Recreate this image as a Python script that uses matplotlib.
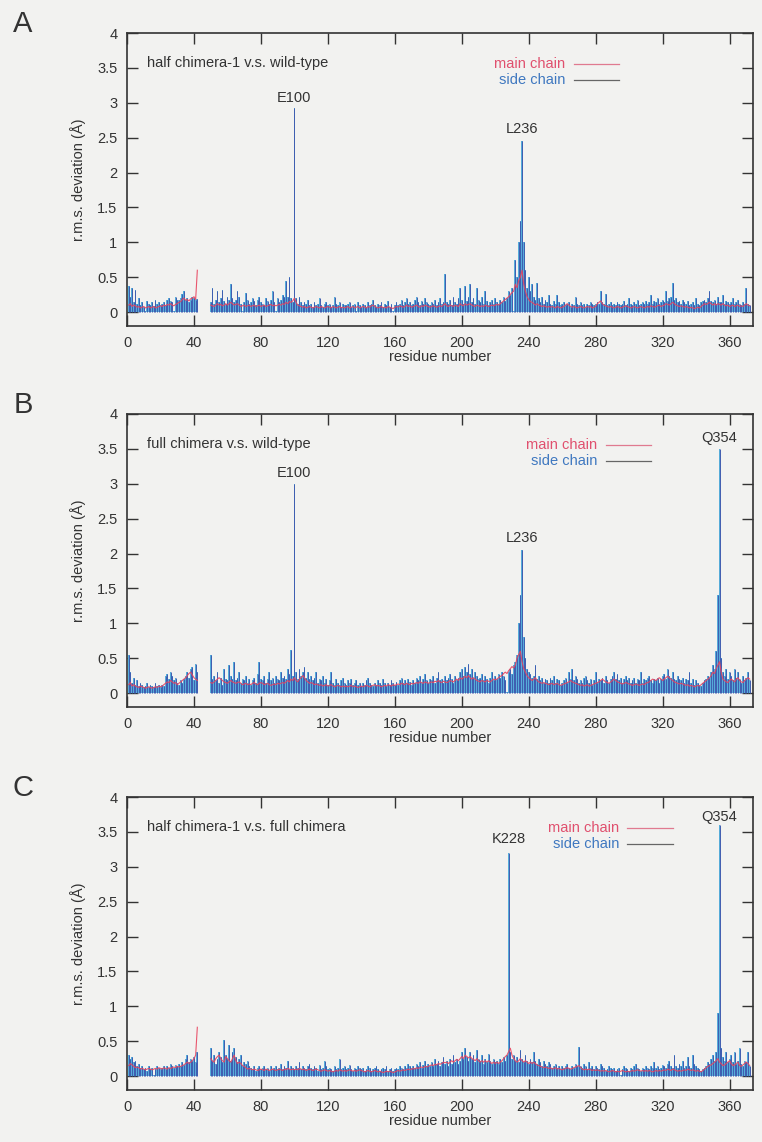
import numpy as np
import matplotlib
matplotlib.use("Agg")
import matplotlib.pyplot as plt

plt.rcParams['font.family'] = ['Liberation Sans', 'DejaVu Sans']

# r.m.s. deviation per residue (Angstrom), residues 1..372, 43-49 missing
sc_a = [.38,.22,.35,.15,.32,.12,.20,.10,.14,.08,
        .02,.16,.12,.10,.15,.09,.18,.11,.14,.10,
        .12,.15,.10,.18,.20,.16,.14,.02,.22,.18,
        .17,.20,.26,.30,.18,.20,.15,.18,.22,.20,
        .17,.19,None,None,None,None,None,None,None,.14,
        .35,.12,.18,.30,.15,.20,.32,.16,.12,.22,
        .18,.40,.20,.15,.18,.30,.22,.12,.02,.15,
        .28,.18,.12,.14,.20,.16,.10,.18,.22,.15,
        .12,.10,.20,.16,.12,.18,.30,.14,.02,.20,
        .15,.18,.25,.22,.45,.22,.50,.20,.15,2.92,
        .20,.12,.22,.15,.10,.14,.12,.18,.10,.12,
        .08,.14,.10,.12,.20,.10,.08,.12,.15,.10,
        .12,.08,.10,.22,.12,.10,.14,.08,.12,.10,
        .10,.12,.15,.08,.10,.12,.02,.14,.10,.08,
        .12,.10,.08,.14,.10,.12,.18,.10,.08,.12,
        .10,.14,.08,.12,.10,.16,.08,.12,.02,.10,
        .14,.10,.12,.18,.10,.14,.20,.12,.15,.10,
        .12,.18,.22,.14,.10,.16,.12,.20,.14,.12,
        .10,.15,.12,.18,.10,.14,.20,.12,.15,.55,
        .14,.12,.18,.10,.22,.15,.12,.20,.35,.18,
        .12,.38,.16,.22,.40,.15,.20,.12,.35,.18,
        .14,.22,.12,.30,.16,.10,.14,.18,.12,.20,
        .15,.12,.18,.14,.22,.16,.20,.30,.25,.35,
        .02,.75,.50,1.0,1.3,2.45,1.0,.60,.35,.50,
        .30,.40,.22,.18,.42,.20,.15,.22,.12,.18,
        .14,.25,.12,.10,.16,.12,.24,.14,.10,.12,
        .15,.10,.12,.14,.08,.12,.10,.22,.12,.10,
        .14,.10,.12,.08,.12,.10,.14,.12,.10,.12,
        .15,.12,.30,.14,.12,.26,.10,.12,.14,.10,
        .12,.10,.14,.12,.10,.12,.16,.10,.12,.20,
        .12,.10,.14,.12,.18,.10,.12,.14,.12,.16,
        .12,.14,.25,.12,.16,.14,.20,.12,.15,.18,
        .14,.30,.16,.20,.22,.42,.18,.20,.14,.16,
        .12,.18,.14,.12,.16,.10,.12,.14,.10,.20,
        .12,.10,.14,.16,.18,.14,.20,.30,.16,.14,
        .18,.12,.22,.15,.14,.25,.12,.16,.14,.12,
        .15,.20,.12,.14,.18,.12,.10,.15,.12,.35,
        .12,.10]

mc_a = [.10,.12,.08,.10,.09,.07,.08,.06,.07,.08,
        .06,.07,.08,.06,.07,.08,.06,.07,.08,.09,
        .08,.10,.09,.11,.10,.12,.10,.09,.11,.12,
        .14,.15,.18,.20,.17,.18,.16,.19,.20,.22,
        .18,.60,None,None,None,None,None,None,None,.10,
        .09,.08,.10,.12,.10,.11,.09,.10,.12,.10,
        .12,.14,.12,.10,.11,.12,.10,.08,.09,.10,
        .08,.09,.10,.08,.09,.10,.08,.09,.10,.08,
        .09,.10,.08,.09,.10,.11,.09,.10,.09,.10,
        .11,.10,.12,.11,.14,.12,.15,.14,.16,.20,
        .14,.10,.09,.08,.07,.08,.06,.07,.08,.07,
        .06,.07,.08,.07,.06,.08,.07,.06,.07,.08,
        .07,.06,.08,.07,.06,.07,.08,.06,.07,.06,
        .07,.08,.06,.07,.08,.06,.07,.08,.06,.07,
        .08,.07,.06,.08,.07,.09,.10,.08,.07,.06,
        .07,.08,.06,.07,.06,.08,.07,.06,.05,.07,
        .08,.07,.09,.08,.07,.08,.10,.08,.09,.07,
        .08,.09,.10,.08,.07,.09,.08,.10,.09,.08,
        .07,.08,.09,.08,.07,.08,.09,.08,.10,.12,
        .09,.08,.10,.09,.08,.10,.09,.08,.12,.10,
        .09,.12,.10,.11,.12,.10,.09,.08,.10,.09,
        .08,.09,.08,.10,.09,.08,.09,.10,.09,.10,
        .11,.10,.12,.14,.16,.18,.20,.22,.25,.28,
        .30,.40,.35,.45,.50,.60,.40,.30,.22,.18,
        .15,.14,.12,.10,.12,.10,.09,.08,.09,.08,
        .07,.08,.07,.08,.07,.06,.08,.07,.06,.07,
        .08,.10,.12,.10,.08,.07,.08,.07,.06,.07,
        .08,.07,.06,.07,.08,.07,.08,.06,.07,.08,
        .12,.14,.16,.12,.10,.09,.08,.07,.08,.07,
        .06,.07,.08,.07,.06,.07,.08,.09,.08,.07,
        .06,.07,.08,.07,.06,.07,.08,.07,.06,.07,
        .08,.07,.09,.08,.07,.08,.09,.10,.08,.09,
        .10,.12,.11,.10,.12,.14,.12,.10,.09,.08,
        .09,.08,.07,.08,.07,.06,.07,.06,.05,.06,
        .07,.06,.08,.10,.12,.11,.12,.14,.12,.10,
        .12,.10,.12,.11,.10,.12,.10,.09,.10,.08,
        .09,.10,.08,.09,.10,.08,.09,.08,.10,.12,
        .10,.09]

sc_b = [.55,.30,.15,.22,.12,.18,.10,.14,.12,.08,
        .10,.14,.08,.12,.10,.09,.14,.10,.12,.08,
        .12,.10,.25,.28,.20,.30,.25,.18,.22,.15,
        .12,.18,.14,.20,.25,.30,.22,.35,.38,.18,
        .42,.30,None,None,None,None,None,None,None,.55,
        .20,.25,.18,.30,.15,.22,.12,.35,.20,.18,
        .40,.25,.20,.45,.18,.22,.30,.15,.20,.18,
        .25,.15,.20,.12,.18,.22,.15,.28,.45,.20,
        .18,.25,.15,.20,.30,.18,.22,.15,.25,.20,
        .18,.30,.22,.25,.20,.35,.28,.62,.25,3.0,
        .30,.20,.35,.25,.30,.38,.22,.30,.20,.25,
        .18,.22,.30,.15,.20,.18,.25,.15,.20,.12,
        .18,.30,.15,.12,.20,.15,.12,.18,.22,.15,
        .12,.18,.15,.20,.12,.15,.18,.12,.15,.10,
        .15,.12,.18,.22,.15,.12,.10,.15,.12,.18,
        .15,.12,.20,.15,.10,.14,.12,.18,.15,.12,
        .16,.12,.18,.22,.15,.18,.14,.20,.16,.12,
        .18,.15,.22,.18,.25,.15,.20,.28,.18,.15,
        .20,.18,.25,.15,.22,.30,.18,.20,.15,.25,
        .18,.22,.28,.20,.15,.25,.18,.22,.30,.35,
        .25,.38,.30,.42,.28,.35,.22,.30,.25,.20,
        .22,.28,.18,.25,.20,.15,.22,.30,.18,.25,
        .20,.28,.22,.30,.25,.18,.02,.30,.35,.28,
        .40,.45,.55,1.0,1.4,2.05,.80,.50,.35,.30,
        .28,.22,.25,.40,.20,.25,.18,.22,.15,.20,
        .18,.15,.22,.18,.25,.15,.20,.18,.12,.15,
        .18,.22,.15,.30,.20,.35,.18,.25,.20,.15,
        .18,.15,.22,.25,.18,.15,.20,.12,.18,.30,
        .15,.20,.18,.22,.15,.25,.18,.15,.20,.25,
        .30,.20,.28,.18,.22,.15,.20,.25,.18,.22,
        .15,.18,.22,.15,.20,.18,.30,.15,.20,.18,
        .22,.25,.18,.15,.20,.18,.22,.15,.20,.25,
        .28,.20,.35,.25,.22,.30,.20,.18,.25,.20,
        .18,.22,.15,.20,.18,.30,.15,.20,.12,.18,
        .15,.12,.10,.15,.18,.20,.25,.22,.30,.40,
        .35,.60,1.4,3.5,.50,.30,.25,.35,.20,.30,
        .25,.18,.35,.22,.30,.20,.15,.25,.18,.22,
        .30,.18]

mc_b = [.12,.15,.10,.12,.10,.09,.08,.10,.09,.08,
        .07,.08,.09,.08,.07,.08,.09,.08,.10,.09,
        .10,.12,.14,.16,.15,.18,.16,.14,.15,.12,
        .14,.16,.18,.20,.22,.25,.28,.30,.26,.22,
        .20,.18,None,None,None,None,None,None,None,.15,
        .14,.16,.18,.20,.22,.20,.18,.16,.15,.14,
        .16,.18,.16,.15,.14,.15,.16,.14,.12,.13,
        .14,.12,.13,.12,.14,.15,.13,.12,.14,.15,
        .14,.12,.13,.14,.12,.11,.12,.13,.12,.14,
        .13,.14,.15,.14,.16,.18,.16,.20,.18,.22,
        .18,.16,.20,.22,.25,.22,.18,.16,.14,.15,
        .14,.12,.13,.12,.11,.12,.10,.11,.12,.10,
        .11,.12,.10,.09,.10,.11,.10,.09,.10,.09,
        .10,.09,.10,.11,.09,.10,.09,.08,.09,.10,
        .09,.10,.11,.10,.09,.10,.11,.12,.10,.11,
        .10,.09,.10,.11,.10,.12,.11,.10,.12,.11,
        .12,.13,.12,.14,.13,.12,.14,.13,.12,.14,
        .13,.14,.15,.14,.16,.15,.14,.16,.15,.14,
        .15,.16,.15,.17,.16,.18,.16,.15,.17,.16,
        .15,.16,.18,.17,.16,.18,.20,.18,.22,.20,
        .22,.24,.22,.25,.22,.20,.22,.20,.18,.17,
        .16,.18,.17,.16,.18,.17,.16,.18,.20,.19,
        .20,.22,.24,.25,.28,.30,.28,.32,.35,.38,
        .36,.40,.50,.55,.60,.45,.35,.30,.25,.22,
        .20,.18,.20,.22,.18,.16,.15,.14,.15,.14,
        .13,.12,.13,.14,.12,.13,.14,.12,.11,.12,
        .13,.14,.15,.16,.18,.16,.15,.14,.13,.12,
        .11,.12,.10,.11,.12,.10,.11,.12,.13,.14,
        .15,.16,.18,.20,.18,.16,.15,.14,.16,.18,
        .20,.18,.16,.15,.14,.13,.14,.15,.14,.13,
        .12,.11,.12,.13,.12,.11,.12,.13,.12,.14,
        .15,.16,.18,.20,.19,.18,.20,.22,.20,.18,
        .20,.22,.24,.22,.20,.18,.16,.15,.14,.13,
        .14,.13,.12,.11,.12,.10,.11,.10,.09,.10,
        .11,.10,.12,.14,.16,.18,.20,.22,.25,.30,
        .28,.35,.40,.45,.30,.20,.18,.16,.15,.18,
        .20,.18,.16,.20,.22,.18,.16,.15,.18,.20,
        .22,.20]

sc_c = [.30,.25,.28,.20,.22,.15,.18,.12,.15,.10,
        .12,.08,.14,.10,.12,.02,.10,.14,.12,.10,
        .12,.15,.10,.14,.12,.18,.15,.12,.16,.14,
        .18,.15,.20,.16,.25,.30,.20,.25,.22,.28,
        .20,.35,None,None,None,None,None,None,None,.40,
        .22,.30,.18,.25,.35,.28,.20,.52,.30,.25,
        .45,.22,.35,.40,.28,.20,.25,.30,.15,.20,
        .18,.22,.15,.12,.10,.14,.08,.12,.15,.10,
        .12,.14,.10,.12,.08,.15,.10,.12,.14,.10,
        .12,.18,.10,.14,.12,.22,.10,.14,.12,.10,
        .15,.12,.20,.10,.14,.12,.10,.15,.18,.12,
        .10,.14,.12,.08,.16,.10,.12,.22,.14,.10,
        .12,.10,.08,.14,.10,.12,.24,.10,.12,.14,
        .10,.12,.16,.10,.08,.12,.10,.14,.12,.10,
        .12,.08,.10,.14,.12,.08,.10,.12,.14,.10,
        .08,.10,.12,.10,.14,.08,.10,.12,.08,.10,
        .12,.10,.14,.12,.10,.15,.12,.18,.14,.12,
        .15,.12,.18,.14,.20,.12,.16,.22,.14,.18,
        .15,.20,.14,.25,.18,.22,.15,.20,.28,.18,
        .22,.15,.25,.18,.30,.20,.25,.18,.22,.35,
        .25,.40,.28,.22,.35,.25,.30,.20,.38,.25,
        .22,.30,.18,.25,.20,.32,.22,.18,.25,.20,
        .22,.18,.25,.20,.28,.22,.30,3.2,.35,.25,
        .30,.22,.28,.20,.38,.25,.20,.30,.22,.18,
        .25,.20,.35,.22,.18,.25,.20,.15,.22,.18,
        .15,.20,.18,.12,.15,.18,.12,.15,.10,.14,
        .12,.15,.18,.12,.10,.15,.12,.18,.14,.42,
        .15,.12,.18,.14,.10,.20,.12,.15,.10,.14,
        .12,.10,.18,.14,.12,.08,.10,.14,.12,.10,
        .12,.08,.10,.12,.02,.10,.14,.12,.10,.08,
        .12,.10,.14,.18,.12,.10,.08,.12,.10,.14,
        .12,.10,.15,.12,.20,.12,.14,.10,.12,.16,
        .14,.12,.18,.22,.14,.12,.30,.15,.12,.18,
        .14,.22,.12,.15,.28,.14,.12,.30,.18,.14,
        .12,.10,.08,.10,.12,.15,.20,.18,.25,.30,
        .22,.35,.90,3.6,.40,.28,.22,.35,.20,.25,
        .30,.20,.35,.18,.22,.40,.18,.15,.22,.20,
        .35,.15]

mc_c = [.15,.18,.16,.14,.12,.13,.12,.10,.11,.10,
        .09,.10,.11,.10,.09,.10,.11,.10,.12,.11,
        .10,.12,.11,.10,.12,.11,.12,.13,.12,.14,
        .13,.14,.15,.16,.18,.20,.18,.20,.22,.25,
        .30,.70,None,None,None,None,None,None,None,.25,
        .22,.20,.25,.28,.30,.25,.22,.20,.28,.25,
        .22,.20,.25,.30,.22,.18,.20,.18,.15,.14,
        .12,.10,.11,.10,.09,.10,.09,.08,.09,.10,
        .09,.08,.10,.09,.08,.09,.10,.09,.08,.09,
        .10,.09,.08,.10,.09,.11,.10,.09,.10,.09,
        .10,.09,.11,.10,.09,.10,.08,.09,.10,.09,
        .08,.09,.10,.09,.08,.07,.08,.09,.08,.07,
        .08,.07,.06,.07,.08,.07,.09,.08,.07,.08,
        .07,.08,.09,.08,.07,.08,.07,.08,.09,.08,
        .07,.06,.07,.08,.07,.06,.07,.08,.07,.06,
        .07,.06,.05,.06,.07,.06,.07,.06,.05,.06,
        .07,.08,.07,.08,.09,.08,.09,.10,.09,.10,
        .11,.10,.12,.11,.12,.13,.12,.14,.13,.14,
        .15,.16,.15,.17,.16,.18,.17,.18,.20,.19,
        .20,.18,.20,.22,.20,.22,.24,.22,.25,.28,
        .25,.30,.28,.26,.28,.25,.24,.22,.25,.22,
        .20,.22,.20,.22,.20,.22,.20,.18,.20,.18,
        .20,.18,.20,.22,.25,.28,.30,.35,.40,.30,
        .25,.22,.20,.22,.25,.22,.20,.22,.20,.18,
        .20,.18,.20,.18,.16,.15,.14,.13,.12,.13,
        .12,.11,.12,.10,.11,.12,.10,.11,.10,.09,
        .10,.11,.12,.11,.10,.11,.12,.13,.14,.15,
        .12,.10,.09,.10,.09,.10,.09,.08,.09,.08,
        .09,.08,.07,.08,.07,.08,.07,.06,.07,.08,
        .07,.06,.07,.06,.07,.08,.07,.06,.07,.06,
        .07,.08,.07,.08,.09,.08,.07,.08,.07,.08,
        .07,.08,.07,.06,.07,.08,.07,.08,.07,.08,
        .09,.08,.10,.09,.08,.10,.09,.08,.07,.08,
        .07,.08,.09,.08,.10,.09,.08,.09,.08,.07,
        .08,.07,.06,.08,.10,.12,.14,.15,.16,.18,
        .20,.22,.25,.20,.18,.15,.16,.18,.20,.22,
        .18,.15,.16,.18,.20,.15,.14,.16,.18,.20,
        .18,.15]

titles = ["half chimera-1 v.s. wild-type",
          "full chimera v.s. wild-type",
          "half chimera-1 v.s. full chimera"]
peaks_a = [("E100", 100, 3.07), ("L236", 236, 2.63)]
peaks_b = [("E100", 100, 3.16), ("L236", 236, 2.22), ("Q354", 354, 3.66)]
peaks_c = [("K228", 228, 3.4), ("Q354", 354, 3.72)]
letters = ["A", "B", "C"]

bg = '#f2f2f0'


def drawPanel(ax, mc, sc, title, peaks, legx):
    sc = np.array(sc, dtype=float)
    mc = np.array(mc, dtype=float)
    res = np.arange(1, len(sc) + 1)
    res_m = np.arange(1, len(mc) + 1)
    ok = ~np.isnan(sc)
    ax.bar(res[ok], sc[ok], width=1.0, color='#56acd9', linewidth=0, zorder=2)
    ax.vlines(res[ok], 0, sc[ok], colors='#3f5db0', linewidth=0.7, zorder=3)
    ax.plot(res_m, mc, color='#e8455f', linewidth=0.8, zorder=4, alpha=0.9)

    for name, x, y in peaks:
        ax.text(x, y, name, ha='center', va='center', fontsize=10.5, color='#333')

    ax.text(12, 3.57, title, ha='left', va='center', fontsize=10.5, color='#333')
    ax.text(legx, 3.56, "main chain", ha='right', va='center', fontsize=10.5, color='#e0506e')
    ax.text(legx, 3.32, "side chain", ha='right', va='center', fontsize=10.5, color='#3f78c0')
    ax.plot([legx + 5, legx + 32], [3.56, 3.56], color='#e07a90', linewidth=0.9)
    ax.plot([legx + 5, legx + 32], [3.32, 3.32], color='#666', linewidth=0.9)

    ax.set_xlim(0, 374)
    ax.set_ylim(-0.2, 4)
    ax.set_xticks(np.arange(0, 361, 40))
    ax.set_yticks(np.arange(0, 4.01, 0.5))
    ax.set_yticklabels(["0", "0.5", "1", "1.5", "2", "2.5", "3", "3.5", "4"])
    ax.tick_params(direction='in', length=8, width=1.0, top=True, right=True,
                   color='#333', labelcolor='#333', labelsize=10.5, pad=7)
    ax.set_facecolor(bg)
    for s in ax.spines.values():
        s.set_color('#333')
        s.set_linewidth(1.2)
    ax.set_xlabel("residue number", fontsize=10.5, color='#333', labelpad=0)
    ax.set_ylabel("r.m.s. deviation (Å)", fontsize=10.5, color='#333', labelpad=8)


fig = plt.figure(figsize=(7.62, 11.42), dpi=100, facecolor=bg)
rects = [[0.1667, 0.7145, 0.8215, 0.2566],
         [0.1667, 0.3809, 0.8215, 0.2566],
         [0.1667, 0.0455, 0.8215, 0.2566]]
data = [(mc_a, sc_a, peaks_a, 262), (mc_b, sc_b, peaks_b, 281), (mc_c, sc_c, peaks_c, 294)]
for i in range(3):
    ax = fig.add_axes(rects[i])
    mc, sc, peaks, legx = data[i]
    drawPanel(ax, mc, sc, titles[i], peaks, legx)
    top = rects[i][1] + rects[i][3]
    fig.text(0.03, top + 0.008, letters[i], fontsize=21, color='#333', ha='center', va='center')

fig.savefig("out.png", dpi=100, facecolor=bg)
